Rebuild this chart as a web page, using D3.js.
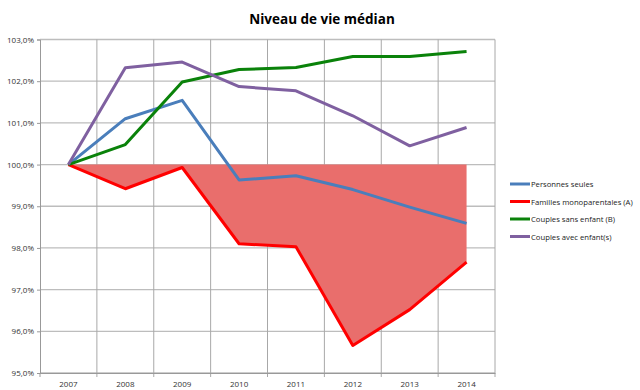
<!DOCTYPE html>
<html><head><meta charset="utf-8">
<script src="https://cdn.jsdelivr.net/npm/d3@7"></script>
<style>body{margin:0;background:#fff}svg{display:block}</style>
</head><body>
<script>
const years = ["2007","2008","2009","2010","2011","2012","2013","2014"];
const personnesSeules = [100, 101.1, 101.54, 99.63, 99.73, 99.4, 98.98, 98.59];
const famillesMono = [100, 99.42, 99.93, 98.1, 98.03, 95.66, 96.52, 97.66];
const couplesSans = [100, 100.48, 101.98, 102.28, 102.33, 102.59, 102.59, 102.71];
const couplesAvec = [100, 102.32, 102.46, 101.87, 101.77, 101.17, 100.45, 100.89];
const yTicks = [95, 96, 97, 98, 99, 100, 101, 102, 103];
const seriesNames = ["Personnes seules", "Familles monoparentales (A)", "Couples sans enfant (B)", "Couples avec enfant(s)"];
const seriesColors = ["#4A7EBB", "#FF0000", "#0A820A", "#7F60A0"];

(function(){
const W = 640, H = 390;
const svg = d3.select("body").append("svg").attr("width", W).attr("height", H);
const pl = 40, pr = 495, pt = 39.5, pb = 373;
const x = d3.scaleBand().domain(years).range([pl, pr]).padding(0);
const y = d3.scaleLinear().domain([95, 103]).range([pb, pt]);
const cx = d => x(d) + x.bandwidth() / 2;
const font = "'Open Sans', 'Liberation Sans', sans-serif";

svg.append("text").attr("x", 322).attr("y", 24).attr("text-anchor", "middle")
  .attr("font-family", font).attr("font-weight", "bold").attr("font-size", 13.5).attr("fill", "#000")
  .text("Niveau de vie médian");

// horizontal grid
svg.append("g").selectAll("line").data(yTicks).join("line")
  .attr("x1", pl).attr("x2", pr).attr("y1", d => y(d)).attr("y2", d => y(d))
  .attr("stroke", "#bdbdbd").attr("stroke-width", 1.3);
// vertical grid
const bounds = years.map(d => x(d)).concat([pr]);
svg.append("g").selectAll("line").data(bounds.slice(1)).join("line")
  .attr("x1", d => d).attr("x2", d => d).attr("y1", pt).attr("y2", pb + 4)
  .attr("stroke", "#a8a8a8").attr("stroke-width", 1);

// area fill
const area = d3.area().x((d, i) => cx(years[i])).y0(y(100)).y1(d => y(d));
svg.append("path").datum(famillesMono).attr("d", area).attr("fill", "#E96E6C");

// axes
const yAxis = d3.axisLeft(y).tickValues(yTicks).tickSize(3).tickPadding(3)
  .tickFormat(d => d3.format(".1f")(d).replace(".", ",") + "%");
const gy = svg.append("g").attr("transform", `translate(${pl},0)`).call(yAxis);
gy.select(".domain").attr("stroke", "#999");
gy.selectAll(".tick line").attr("stroke", "#999");
gy.selectAll("text").attr("font-family", font).attr("font-size", 8).attr("fill", "#333");

const xAxis = d3.axisBottom(x).tickSize(0).tickPadding(8);
const gx = svg.append("g").attr("transform", `translate(0,${pb})`).call(xAxis);
gx.select(".domain").attr("stroke", "#999");
gx.selectAll("text").attr("font-family", font).attr("font-size", 8).attr("fill", "#333");
svg.append("line").attr("x1", pl).attr("x2", pl).attr("y1", pb).attr("y2", pb + 4).attr("stroke", "#999");

// lines
const line = d3.line().x((d, i) => cx(years[i])).y(d => y(d));
const allSeries = [personnesSeules, famillesMono, couplesSans, couplesAvec];
const drawOrder = [1, 0, 2, 3];
drawOrder.forEach(i => {
  svg.append("path").datum(allSeries[i]).attr("d", line).attr("fill", "none")
    .attr("stroke", seriesColors[i]).attr("stroke-width", 3).attr("stroke-linejoin", "round");
});

// legend
const lg = svg.append("g");
seriesNames.forEach((n, i) => {
  const ly = 184 + i * 17.5;
  lg.append("line").attr("x1", 510).attr("x2", 530).attr("y1", ly).attr("y2", ly)
    .attr("stroke", seriesColors[i]).attr("stroke-width", 3);
  lg.append("text").attr("x", 531).attr("y", ly + 3).attr("font-family", font).attr("font-size", 7.7)
    .attr("fill", "#222").text(n);
});
})();
</script>
</body></html>
